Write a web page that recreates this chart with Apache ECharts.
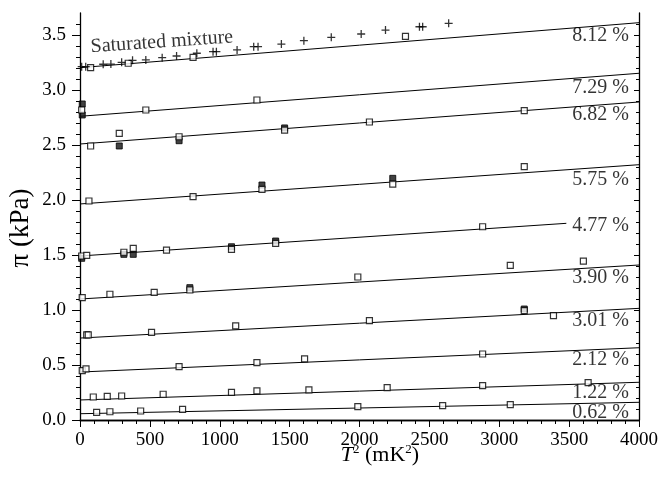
<!DOCTYPE html>
<html>
<head>
<meta charset="utf-8">
<script src="https://cdn.jsdelivr.net/npm/echarts@6/dist/echarts.min.js"></script>
<style>html,body{margin:0;padding:0;background:#fff;}#c{width:661px;height:479px;}</style>
</head>
<body>
<div id="c"></div>
<script>
// ---- tick labels ----
const xTicks = [0, 500, 1000, 1500, 2000, 2500, 3000, 3500, 4000];
const yTicks = [0, 0.5, 1.0, 1.5, 2.0, 2.5, 3.0, 3.5];
const yMinorTicks = [0,0.1,0.2,0.3,0.4,0.5,0.6,0.7,0.8,0.9,1.0,1.1,1.2,1.3,1.4,1.5,1.6,1.7,1.8,1.9,2.0,2.1,2.2,2.3,2.4,2.5,2.6,2.7,2.8,2.9,3.0,3.1,3.2,3.3,3.4,3.5,3.6];

// ---- fitted lines (one per concentration) ----
const concLabels = ['8.12 %', '7.29 %', '6.82 %', '5.75 %', '4.77 %', '3.90 %', '3.01 %', '2.12 %', '1.22 %', '0.62 %'];
const fitStart   = [3.203, 2.761, 2.509, 1.964, 1.491, 1.100, 0.745, 0.436, 0.182, 0.057];
const fitEnd     = [3.612, 3.152, 2.891, 2.321, 1.788, 1.409, 1.015, 0.657, 0.343, 0.161];
const fitEndX    = [4000, 4000, 4000, 4000, 3480, 4000, 4000, 4000, 4000, 4000];
const labelY     = [3.491, 3.024, 2.773, 2.188, 1.764, 1.297, 0.900, 0.545, 0.252, 0.066];

// ---- saturated mixture (+) ----
const satPlus = [[12,3.212],[41,3.212],[166,3.234],[221,3.236],[298,3.252],[376,3.270],[471,3.273],[588,3.294],[691,3.309],[836,3.334],[952,3.348],[976,3.348],[1124,3.364],[1243,3.394],[1274,3.394],[1441,3.418],[1602,3.448],[1798,3.479],[2012,3.509],[2186,3.545],[2429,3.575],[2452,3.575],[2638,3.606]];

// ---- open squares ----
const open812 = [[76,3.203],[345,3.243],[809,3.297],[2329,3.488]];
const open729 = [[12,2.818],[471,2.818],[1266,2.909]];
const open682 = [[76,2.491],[281,2.606],[709,2.575],[1464,2.636],[2071,2.709],[3179,2.812]];
const open575 = [[64,1.991],[809,2.030],[1302,2.097],[2238,2.145],[3179,2.303]];
const open477 = [[12,1.491],[48,1.497],[314,1.525],[381,1.561],[619,1.545],[1084,1.552],[1400,1.606],[2881,1.757]];
const open390 = [[16,1.112],[214,1.143],[531,1.161],[786,1.182],[1988,1.300],[3079,1.406],[3602,1.445]];
const open301 = [[48,0.773],[59,0.773],[512,0.797],[1114,0.855],[2071,0.903],[3179,0.994],[3388,0.948]];
const open212 = [[16,0.448],[43,0.464],[709,0.485],[1266,0.521],[1607,0.555],[2881,0.600]];
const open122 = [[95,0.209],[195,0.215],[298,0.218],[595,0.234],[1084,0.252],[1266,0.264],[1638,0.273],[2198,0.294],[2881,0.312],[3636,0.339]];
const open062 = [[119,0.070],[214,0.075],[434,0.082],[734,0.097],[1988,0.121],[2595,0.130],[3079,0.139]];

// ---- filled squares ----
const fill729 = [[16,2.873],[16,2.773]];
const fill682 = [[281,2.491],[709,2.539],[1464,2.655]];
const fill575 = [[1302,2.136],[2238,2.197]];
const fill477 = [[12,1.470],[314,1.506],[381,1.506],[1084,1.575],[1400,1.627]];
const fill390 = [[786,1.203]];
const fill301 = [[3179,1.009]];

const satLabel = {text: 'Saturated mixture', x: 586, y: 3.436};
const labelX = 3929;

const FONT = 'Liberation Serif';
const BLACK = '#000';

const chart = echarts.init(document.getElementById('c'), null, {renderer: 'canvas'});

const series = [];
// fitted lines
concLabels.forEach((name, i) => {
  series.push({
    type: 'line', name: name, data: [[0, fitStart[i]], [fitEndX[i], fitEnd[i]]],
    symbol: 'none', lineStyle: {color: BLACK, width: 1}, silent: true, z: 2
  });
});
// filled squares (behind open)
[fill729, fill682, fill575, fill477, fill390, fill301].forEach(d => {
  series.push({
    type: 'scatter', data: d, symbol: 'rect', symbolSize: 6,
    itemStyle: {color: '#111', borderColor: BLACK, borderWidth: 1}, z: 3
  });
});
// open squares
[open812, open729, open682, open575, open477, open390, open301, open212, open122, open062].forEach(d => {
  series.push({
    type: 'scatter', data: d, symbol: 'rect', symbolSize: 6,
    itemStyle: {color: '#fff', borderColor: BLACK, borderWidth: 1.2}, z: 4
  });
});
// plus markers
series.push({
  type: 'scatter', data: satPlus,
  symbol: 'path://M4.2,0H5.8V4.2H10V5.8H5.8V10H4.2V5.8H0V4.2H4.2Z', symbolSize: 8,
  itemStyle: {color: BLACK}, z: 4
});
// concentration labels
series.push({
  type: 'scatter', symbolSize: 0.1, itemStyle: {color: 'transparent'}, z: 5, silent: true,
  data: concLabels.map((t, i) => ({value: [labelX, labelY[i]], label: {formatter: t}})),
  label: {show: true, position: 'left', distance: 0, color: BLACK, fontFamily: FONT, fontSize: 20}
});
// saturated mixture label
series.push({
  type: 'scatter', symbolSize: 0.1, itemStyle: {color: 'transparent'}, z: 5, silent: true,
  data: [{value: [satLabel.x, satLabel.y], label: {formatter: satLabel.text}}],
  label: {show: true, position: 'inside', rotate: 4, color: BLACK, fontFamily: FONT, fontSize: 20}
});

const axLine = {show: true, lineStyle: {color: BLACK, width: 1.3}};

const option = {
  animation: false,
  backgroundColor: '#fff',
  grid: {left: 80, right: 21, top: 13, bottom: 59, containLabel: false},
  xAxis: [
    {
      type: 'value', min: 0, max: 4000, interval: 500, position: 'bottom',
      axisLine: axLine,
      axisTick: {show: true, inside: false, length: 7, lineStyle: {color: BLACK, width: 1}},
      minorTick: {show: true, splitNumber: 5, length: 4, lineStyle: {color: BLACK, width: 1}},
      axisLabel: {show: true, margin: 11, color: BLACK, fontFamily: FONT, fontSize: 19,
        customValues: xTicks, formatter: v => String(v)},
      splitLine: {show: false}, minorSplitLine: {show: false}
    },
    {
      type: 'value', min: 0, max: 4000, interval: 500, position: 'top',
      axisLine: axLine,
      axisTick: {show: true, inside: true, length: 5, lineStyle: {color: BLACK, width: 1}},
      minorTick: {show: true, splitNumber: 5, length: 3, lineStyle: {color: BLACK, width: 1}},
      axisLabel: {show: false}, splitLine: {show: false}
    }
  ],
  yAxis: [
    {
      type: 'value', min: 0, max: 3.7, interval: 0.5, position: 'left',
      axisLine: axLine,
      axisTick: {show: true, inside: false, length: 8, customValues: yTicks, lineStyle: {color: BLACK, width: 1}},
      axisLabel: {show: true, margin: 14, color: BLACK, fontFamily: FONT, fontSize: 19,
        customValues: yTicks, formatter: v => v.toFixed(1)},
      splitLine: {show: false}
    },
    {
      type: 'value', min: 0, max: 3.7, interval: 0.1, position: 'left', offset: 0,
      axisLine: {show: false},
      axisTick: {show: true, inside: false, length: 4, customValues: yMinorTicks, lineStyle: {color: BLACK, width: 1}},
      axisLabel: {show: false}, splitLine: {show: false}
    },
    {
      type: 'value', min: 0, max: 3.7, interval: 0.5, position: 'right', offset: 0,
      axisLine: axLine,
      axisTick: {show: true, inside: true, length: 5, customValues: yTicks, lineStyle: {color: BLACK, width: 1}},
      axisLabel: {show: false}, splitLine: {show: false}
    },
    {
      type: 'value', min: 0, max: 3.7, interval: 0.1, position: 'right', offset: 0,
      axisLine: {show: false},
      axisTick: {show: true, inside: true, length: 3, customValues: yMinorTicks, lineStyle: {color: BLACK, width: 1}},
      axisLabel: {show: false}, splitLine: {show: false}
    }
  ],
  series: series,
  graphic: [
    {
      type: 'text', x: 21, y: 228, rotation: Math.PI / 2,
      style: {text: 'π (kPa)', fill: BLACK, fontFamily: FONT, fontSize: 27,
        textAlign: 'center', textVerticalAlign: 'middle'}
    },
    {
      type: 'text', x: 380, y: 455,
      style: {
        text: '{it|T}{sup|2} (mK{sup|2})',
        fill: BLACK, fontFamily: FONT, fontSize: 22,
        textAlign: 'center', textVerticalAlign: 'middle',
        rich: {
          it: {fontStyle: 'italic', fontFamily: FONT, fontSize: 22, fill: BLACK, lineHeight: 24},
          sup: {fontFamily: FONT, fontSize: 13, verticalAlign: 'top', lineHeight: 24, fill: BLACK}
        }
      }
    }
  ]
};

chart.setOption(option);
</script>
</body>
</html>
